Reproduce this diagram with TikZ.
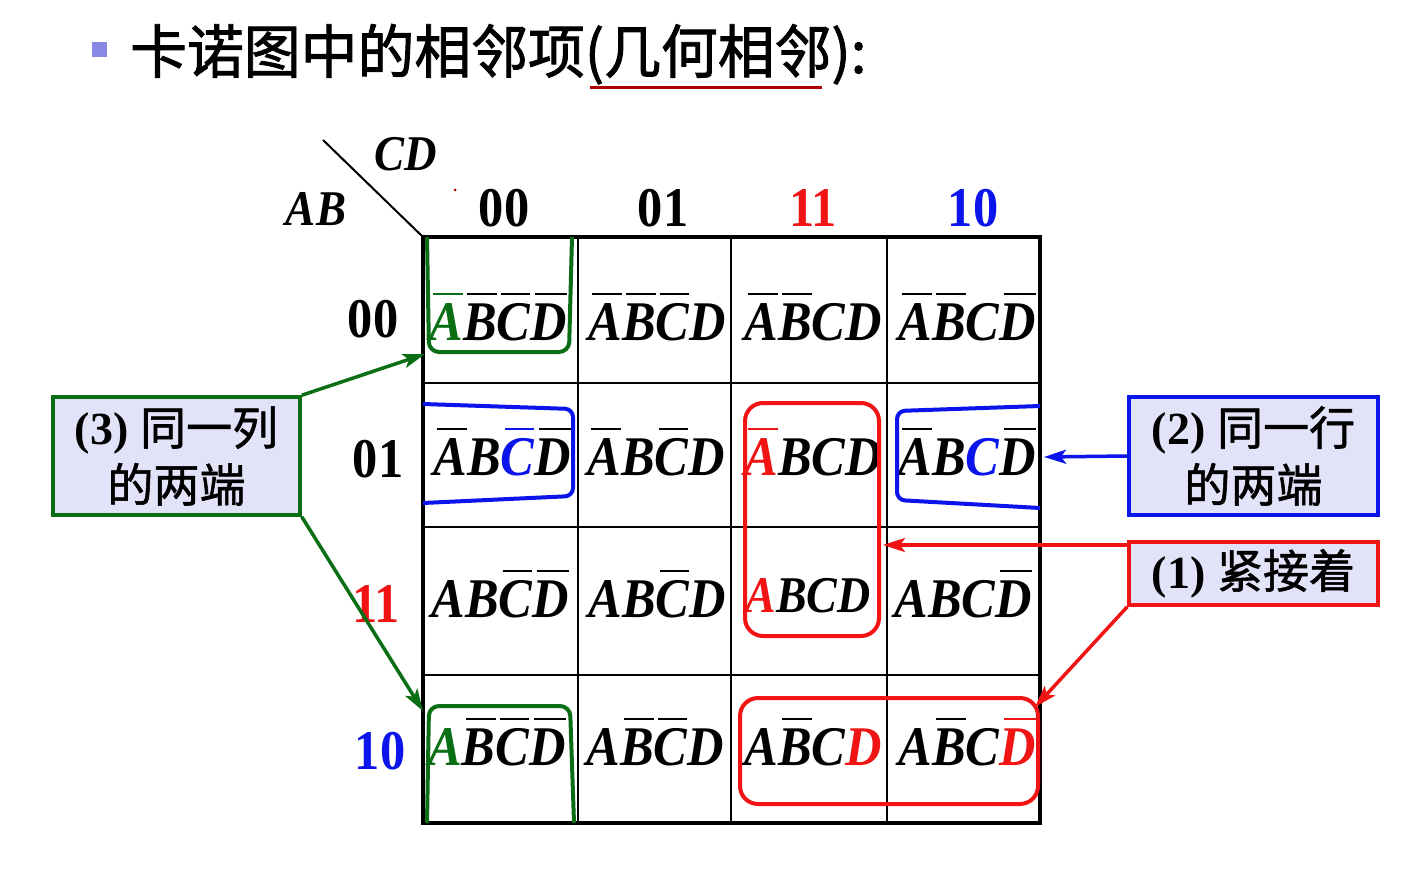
\documentclass[tikz,border=0pt]{standalone}
\usepackage{graphicx}
\usepackage{fontspec}
\setmainfont{Liberation Serif}
\newfontfamily\cjk{Noto Sans CJK SC}[FakeBold=1.6]
\newfontfamily\cjkbox{Noto Sans CJK SC}[FakeBold=1.2]
\usetikzlibrary{arrows.meta}
\definecolor{kgreen}{RGB}{10,110,20}
\definecolor{kred}{RGB}{240,20,20}
\definecolor{kblue}{RGB}{10,20,235}
\definecolor{kfill}{RGB}{226,226,248}
\definecolor{kbullet}{RGB}{135,135,230}
\definecolor{kdred}{RGB}{175,0,0}
\newcommand\ol[1]{\setbox0\hbox{#1}\rlap{\kern0.12\wd0\raisebox{0.8em}{\rule{0.88\wd0}{2pt}}}\box0}
\newcommand\sx[1]{\scalebox{0.9}[1]{#1}}
\begin{document}
\begin{tikzpicture}[x=1pt,y=-1pt,
  cell/.style={anchor=base, inner sep=0pt, font=\fontsize{56}{60}\selectfont\bfseries\itshape},
  lab/.style={anchor=base, inner sep=0pt, font=\fontsize{56}{60}\selectfont\bfseries},
  hdr/.style={anchor=base, inner sep=0pt, font=\fontsize{50}{54}\selectfont\bfseries\itshape},
  callout/.style={draw, line width=3.5pt, fill=kfill, inner sep=0pt, align=center,
     font=\fontsize{46}{57}\selectfont\bfseries, minimum width=249pt},
  gridthin/.style={line width=2.5pt},
  loopg/.style={draw=kgreen, line width=4pt, rounded corners=10pt},
  loopb/.style={draw=kblue, line width=4pt, rounded corners=8pt},
  loopr/.style={draw=kred, line width=4pt, rounded corners=18pt},
  arr/.style={-{Stealth[length=22pt,width=14pt,inset=5pt]}, line width=3.5pt}]
\useasboundingbox (0,0) rectangle (1426,872);
\fill[white] (0,0) rectangle (1426,872);
% title
\fill[kbullet] (92,42) rectangle (107,57);
\node[anchor=base west, inner sep=0pt, font=\cjk\fontsize{58}{60}\selectfont] (title) at (130,73)
  {\scalebox{0.98}[1]{卡诺图中的相邻项(几何相邻):}};
\draw[kdred, line width=3pt] (590,88) -- (822,88);
% grid
\draw[gridthin] (578,237) -- (578,823) (731,237) -- (731,823) (887,237) -- (887,823);
\draw[gridthin] (423,383) -- (1040,383) (423,527) -- (1040,527) (423,675) -- (1040,675);
\draw[line width=4.5pt] (423,237) rectangle (1040,823);
\draw[line width=2pt] (323,140) -- (423,237);
\fill[kdred] (455,190) circle (1.5pt);
% headers
\node[hdr] (hcd) at (406,170) {\sx{CD}};
\node[hdr] (hab) at (316,225) {\sx{AB}};
\node[lab] (k00) at (504,226) {\sx{00}};
\node[lab] (k01) at (663,226) {\sx{01}};
\node[lab, text=kred] (k11) at (813,226) {\sx{11}};
\node[lab, text=kblue] (k10) at (973,226) {\sx{10}};
\node[lab] (r00) at (373,337) {\sx{00}};
\node[lab] (r01) at (378,477) {\sx{01}};
\node[lab, text=kred] (r11) at (376,622) {\sx{11}};
\node[lab, text=kblue] (r10) at (380,769) {\sx{10}};
% cells row 00
\node[cell] (c0000) at (498,340) {\sx{\textcolor{kgreen}{\ol{A}}\ol{B}\ol{C}\ol{D}}};
\node[cell] (c0001) at (657,340) {\sx{\ol{A}\ol{B}\ol{C}D}};
\node[cell] (c0011) at (813,340) {\sx{\ol{A}\ol{B}CD}};
\node[cell] (c0010) at (967,340) {\sx{\ol{A}\ol{B}C\ol{D}}};
% row 01
\node[cell] (c0100) at (502,475) {\sx{\ol{A}B\textcolor{kblue}{\ol{C}}\ol{D}}};
\node[cell] (c0101) at (656,475) {\sx{\ol{A}B\ol{C}D}};
\node[cell] (c0111) at (813,475) {\sx{\textcolor{kred}{\ol{A}}BCD}};
\node[cell] (c0110) at (967,475) {\sx{\ol{A}B\textcolor{kblue}{C}\ol{D}}};
% row 11
\node[cell] (c1100) at (500,617) {\sx{AB\ol{C}\ol{D}}};
\node[cell] (c1101) at (657,617) {\sx{AB\ol{C}D}};
\node[cell] (c1111) at (808,612) {\scalebox{0.82}[0.92]{\textcolor{kred}{A}BCD}};
\node[cell] (c1110) at (963,617) {\sx{ABC\ol{D}}};
% row 10
\node[cell] (c1000) at (497,765) {\sx{\textcolor{kgreen}{A}\ol{B}\ol{C}\ol{D}}};
\node[cell] (c1001) at (655,765) {\sx{A\ol{B}\ol{C}D}};
\node[cell] (c1011) at (813,765) {\sx{A\ol{B}C\textcolor{kred}{D}}};
\node[cell] (c1010) at (967,765) {\sx{A\ol{B}C\textcolor{kred}{\ol{D}}}};
% loops
\draw[loopg] (427,237) -- (429,352) -- (569,352) -- (572,237);
\draw[loopg] (427,823) -- (429,706) -- (570,706) -- (574,823);
\draw[loopb] (423,404) -- (573,409) -- (573,496) -- (423,503);
\draw[loopb] (1040,406) -- (897,411) -- (897,500) -- (1040,508);
\draw[loopr] (745,403) rectangle (879,636);
\draw[loopr] (740,698) rectangle (1038,804);
% callouts
\node[callout, draw=kgreen, minimum height=118pt, minimum width=247pt] (b3) at (176.5,456)
  {(3) {\cjkbox\mdseries 同一列}\\{\cjkbox\mdseries 的两端}};
\node[callout, draw=kblue, minimum height=118pt] (b2) at (1253.5,456)
  {(2) {\cjkbox\mdseries 同一行}\\{\cjkbox\mdseries 的两端}};
\node[callout, draw=kred, minimum height=63pt] (b1) at (1253.5,573.5)
  {(1) {\cjkbox\mdseries 紧接着}};
% arrow targets
\coordinate (tg1) at (425,354);
\coordinate (tg2) at (423,711);
\coordinate (tb) at (1044,457);
\coordinate (tr1) at (883,545);
\coordinate (tr2) at (1035,707);
\coordinate (sr1) at (1129,545);
\draw[arr, kgreen] (b3.north east) -- (tg1);
\draw[arr, kgreen] (b3.south east) -- (tg2);
\draw[arr, kblue] (b2.west) -- (tb);
\draw[arr, kred] (sr1) -- (tr1);
\draw[arr, kred] (b1.south west) -- (tr2);
\end{tikzpicture}
\end{document}
